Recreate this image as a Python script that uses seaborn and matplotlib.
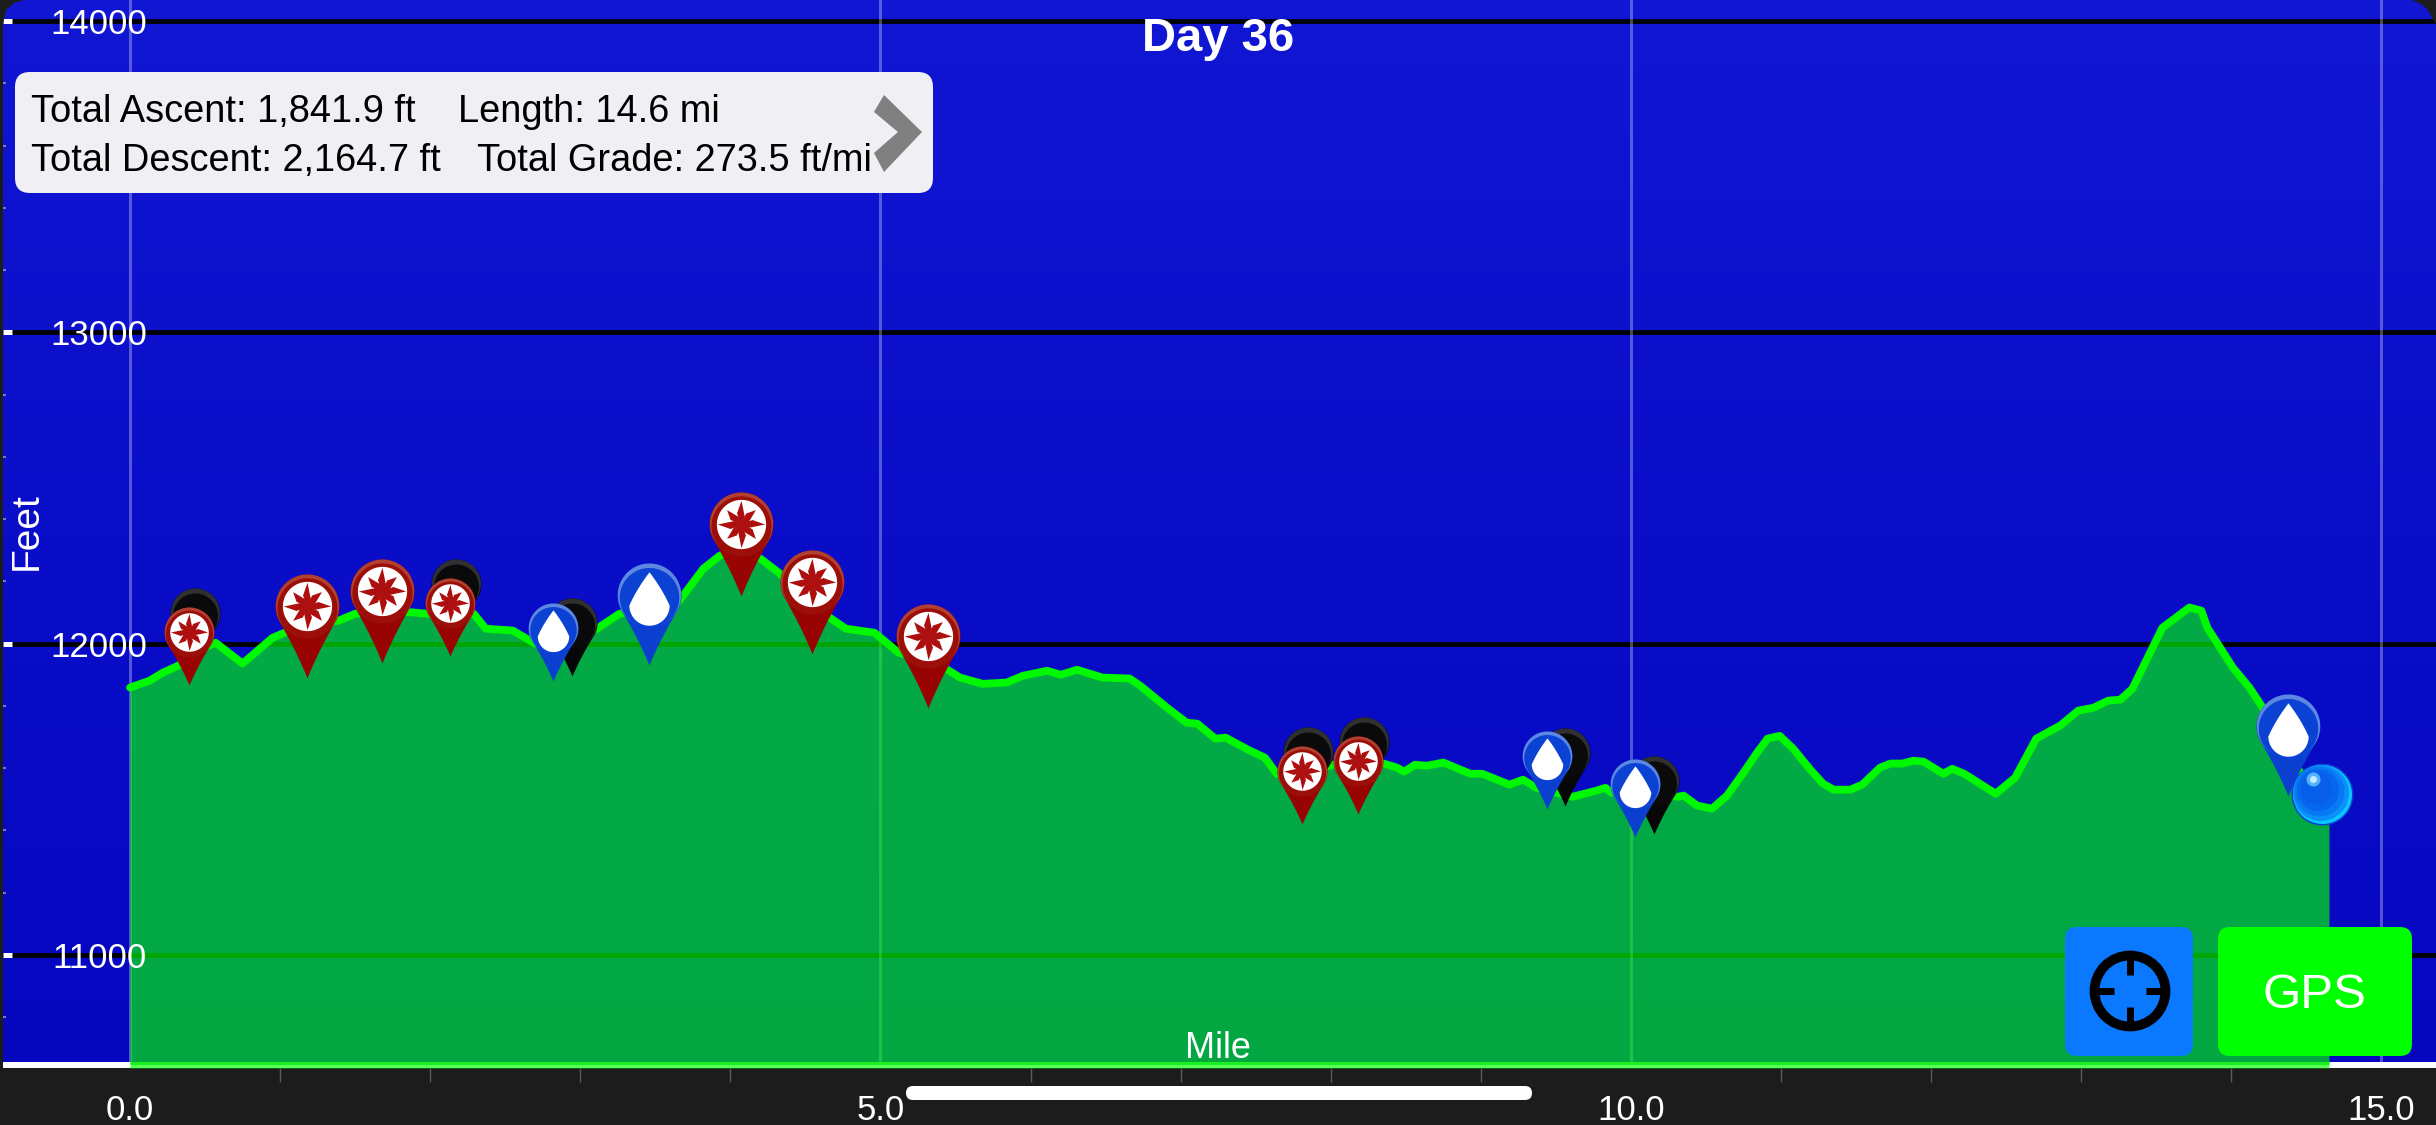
import numpy as np
import matplotlib
matplotlib.use("Agg")
import matplotlib.pyplot as plt
import seaborn as sns
from matplotlib.path import Path
from matplotlib.patches import FancyBboxPatch, Polygon, Circle
from matplotlib.markers import MarkerStyle
from matplotlib.colors import LinearSegmentedColormap
from matplotlib.ticker import FixedLocator, FixedFormatter
from matplotlib.transforms import Affine2D

TITLE = "Day 36"
X_LABEL = "Mile"
Y_LABEL = "Feet"
SUMMARY = ["Total Ascent: 1,841.9 ft", "Length: 14.6 mi", "Total Descent: 2,164.7 ft", "Total Grade: 273.5 ft/mi"]
x_major = [0, 5, 10, 15]
x_major_labels = ["0.0", "5.0", "10.0", "15.0"]
x_minor = [1, 2, 3, 4, 6, 7, 8, 9, 11, 12, 13, 14]
y_major = [11000, 12000, 13000, 14000]
y_major_labels = ["11000", "12000", "13000", "14000"]
y_minor = [10800, 11200, 11400, 11600, 11800, 12200, 12400, 12600, 12800, 13200, 13400, 13600, 13800]

miles = [0, .13, .22, .32, .48, .57, .75, .95, 1.03, 1.2, 1.39, 1.5, 1.67, 1.89, 1.98, 2.29, 2.37, 2.55, 2.7, 2.9,
         3.12, 3.26, 3.48, 3.66, 3.82, 3.93, 4.07, 4.2, 4.33, 4.5, 4.66, 4.77, 4.96, 5.12, 5.29, 5.45, 5.53, 5.68,
         5.84, 5.95, 6.11, 6.2, 6.31, 6.48, 6.66, 6.73, 6.91, 7.04, 7.11, 7.23, 7.30, 7.45, 7.56, 7.64, 7.75, 8.0,
         8.25, 8.35, 8.44, 8.49, 8.56, 8.64, 8.75, 8.93, 9.01, 9.19, 9.28, 9.37, 9.61, 9.77, 9.83, 9.87, 10.1,
         10.31, 10.35, 10.44, 10.54, 10.64, 10.75, 10.84, 10.91, 10.99, 11.08, 11.19, 11.28, 11.35, 11.46, 11.54,
         11.66, 11.73, 11.81, 11.88, 11.95, 12.08, 12.14, 12.22, 12.43, 12.56, 12.7, 12.86, 12.98, 13.08, 13.18,
         13.26, 13.34, 13.54, 13.72, 13.8, 13.84, 14.01, 14.12, 14.2, 14.45, 14.6, 14.65]
feet = [11859, 11881, 11907, 11929, 11985, 12003, 11936, 12019, 12035, 12060, 12074, 12096, 12105, 12100, 12096,
        12096, 12048, 12042, 12000, 11990, 12051, 12096, 12110, 12138, 12241, 12283, 12300, 12273, 12225, 12150,
        12084, 12048, 12035, 11971, 11950, 11915, 11891, 11871, 11875, 11897, 11913, 11900, 11916, 11891, 11888,
        11865, 11794, 11746, 11743, 11695, 11698, 11659, 11634, 11582, 11570, 11610, 11625, 11615, 11602, 11589,
        11611, 11608, 11618, 11582, 11582, 11547, 11563, 11537, 11508, 11528, 11537, 11521, 11530, 11508, 11512,
        11480, 11470, 11512, 11586, 11650, 11695, 11704, 11663, 11598, 11550, 11531, 11531, 11547, 11602, 11615,
        11615, 11624, 11621, 11582, 11598, 11582, 11518, 11570, 11695, 11737, 11785, 11794, 11817, 11820, 11855,
        12051, 12116, 12106, 12051, 11923, 11859, 11801, 11592, 11518, 11480]

red_small_x = [0.393, 2.132, 7.808, 8.181]
red_small_y = [11868, 11961, 11422, 11454]
red_large_x = [1.179, 1.679, 4.07, 4.544, 5.316]
red_large_y = [11891, 11939, 12154, 11968, 11794]
black_x = [0.433, 2.172, 2.945, 7.848, 8.221, 9.56, 10.153]
black_y = [11929, 12022, 11897, 11483, 11515, 11480, 11390]
blue_small_x = [2.818, 9.44, 10.027]
blue_small_y = [11881, 11470, 11380]
blue_large_x = [3.458, 14.377]
blue_large_y = [11933, 11512]
here_x = [14.603]
here_y = [11518]

W, H = 2436, 1125
sns.set_theme(style="white")
plt.rcParams["font.family"] = ["Liberation Sans", "DejaVu Sans"]
DARK = "#1c1c1c"
fig = plt.figure(figsize=(W / 100, H / 100), dpi=100, facecolor=DARK)
ax = fig.add_axes([3 / W, 1 - 1068 / H, (W - 3) / W, 1068 / H])
PX = 150.1
PY = 0.3113
ax.set_xlim((3 - 130) / PX, (W - 130) / PX)
ax.set_ylim(11000 - (1068 - 955) / PY, 14000 + 21 / PY)
xmin, xmax = ax.get_xlim()
ymin, ymax = ax.get_ylim()
px = Affine2D().scale(1 / W, -1 / H).translate(0, 1) + fig.transFigure

sky = LinearSegmentedColormap.from_list("sky", ["#1016d2", "#0a0ec9", "#0606bf"])
ax.imshow(np.linspace(0, 1, 64)[:, None], cmap=sky, extent=(xmin, xmax, ymin, ymax), aspect="auto", zorder=0)
ax.set_xlim(xmin, xmax)
ax.set_ylim(ymin, ymax)

for s in ax.spines.values():
    s.set_visible(False)

for v in y_major:
    ax.axhline(v, color="black", lw=3.4, zorder=1)
for v in x_major:
    ax.axvline(v, color="white", alpha=0.30, lw=2.2, zorder=1)
ax.axhspan(ymin, 11000 - (1062 - 955) / PY, color="white", lw=0, zorder=1.2)

ax.fill_between(miles, feet, ymin, color="#00ff00", alpha=0.65, lw=0, zorder=2)
sns.lineplot(x=miles, y=feet, color="#00f800", lw=5.6, ax=ax, zorder=2.2, sort=False, estimator=None)
ax.lines[-1].set_solid_joinstyle("round")
ax.plot([0, miles[-1]], [11000 - (1063.5 - 955) / PY] * 2, color="#19f01e", lw=2.2, zorder=2.2,
        solid_capstyle="butt")
ax.set_xlabel("")
ax.set_ylabel("")

ax.set_axisbelow(False)
ax.xaxis.set_major_locator(FixedLocator(x_major))
ax.xaxis.set_major_formatter(FixedFormatter(x_major_labels))
ax.xaxis.set_minor_locator(FixedLocator(x_minor))
ax.yaxis.set_major_locator(FixedLocator(y_major))
ax.yaxis.set_major_formatter(FixedFormatter(y_major_labels))
ax.yaxis.set_minor_locator(FixedLocator(y_minor))
ax.tick_params(axis="x", which="major", direction="out", length=4.5, width=3, color="white",
               labelcolor="white", labelsize=25, pad=14)
ax.tick_params(axis="x", which="minor", direction="out", length=10, width=1, color="#5a5a5a", bottom=True)
ax.tick_params(axis="y", which="major", direction="in", length=6.5, width=3.6, color="white",
               labelcolor="white", labelsize=25, pad=-103.7, left=True)
ax.tick_params(axis="y", which="minor", direction="in", length=2.5, width=1.5, color="#7a7ab8", left=True)


def stamp(xs, ys, verts, color, z, alpha=1):
    path = Path(np.asarray(verts, float))
    rescale = np.max(np.abs(path.vertices))
    ax.scatter(xs, ys, marker=MarkerStyle(path), s=(1.44 * rescale) ** 2, color=color, linewidths=0,
               zorder=z, alpha=alpha, clip_on=False)


def circle(cx, cy, r, n=60):
    t = np.linspace(0, 2 * np.pi, n)
    return np.c_[cx + r * np.cos(t), cy + r * np.sin(t)]


def body(height, width):
    r = width / 2
    cy = height - r
    a = np.radians(np.linspace(-25, 205, 50))
    arc = np.c_[r * np.cos(a), cy + r * np.sin(a)]
    start = arc[-1]
    end = arc[0]
    t = np.linspace(0, 1, 14)[:, None]
    ctrl_l = np.array([-r * 0.36, cy * 0.40])
    ctrl_r = np.array([r * 0.36, cy * 0.40])
    left = (1 - t) ** 2 * start + 2 * t * (1 - t) * ctrl_l
    right = t ** 2 * end + 2 * t * (1 - t) * ctrl_r
    return np.r_[arc, left, right]


def rose(cy, r):
    verts = []
    codes = []
    for k in range(8):
        a0 = np.pi / 2 + k * np.pi / 4
        rk = r if k % 2 == 0 else r * 0.86
        tip = np.array([np.cos(a0), np.sin(a0)]) * rk
        side = np.array([np.cos(a0 + 0.39), np.sin(a0 + 0.39)]) * r * 0.50
        side2 = np.array([np.cos(a0 - 0.39), np.sin(a0 - 0.39)]) * r * 0.36
        for j, pt in enumerate([tip, side, np.zeros(2), side2, tip]):
            verts.append(pt + [0, cy])
            codes.append(Path.MOVETO if j == 0 else Path.LINETO)
    return Path(np.array(verts), codes)


def stamp_path(xs, ys, path, color, z):
    rescale = np.max(np.abs(path.vertices))
    ax.scatter(xs, ys, marker=MarkerStyle(path), s=(1.44 * rescale) ** 2, color=color, linewidths=0, zorder=z,
               clip_on=False)


def drop(cy, r):
    t = np.linspace(0, 1, 12)[:, None]
    top = np.array([0, cy + r * 1.15])
    c0 = cy - r * 0.5
    right = (1 - t) ** 2 * np.array([r, c0]) + 2 * t * (1 - t) * np.array([r * 0.62, cy + r * 0.35]) + t ** 2 * top
    left = (1 - t) ** 2 * top + 2 * t * (1 - t) * np.array([-r * 0.62, cy + r * 0.35]) + t ** 2 * np.array([-r, c0])
    a2 = np.radians(np.linspace(180, 360, 30))
    bottom = np.c_[r * np.cos(a2), c0 + r * np.sin(a2)]
    return np.r_[right, left, bottom]


def pins(xs, ys, height, width, kind, z):
    r = width / 2
    cy = height - r
    if kind == "black":
        stamp(xs, ys, body(height, width), "#070707", z)
        stamp(xs, ys, circle(0, cy + r * 0.02, r * 0.98), "#303030", z + 0.01)
        stamp(xs, ys, circle(0, cy - r * 0.10, r * 0.90), "#0a0a0a", z + 0.02)
    elif kind == "red":
        stamp(xs, ys, body(height, width), "#980303", z)
        stamp(xs, ys, circle(0, cy + r * 0.01, r * 0.99), "#b04032", z + 0.01)
        stamp(xs, ys, circle(0, cy - r * 0.06, r * 0.94), "#9c0f08", z + 0.015)
        stamp(xs, ys, circle(0, cy, r * 0.77), "#ffffff", z + 0.02)
        stamp_path(xs, ys, rose(cy, r * 0.74), "#ad0f0f", z + 0.03)
    else:
        stamp(xs, ys, body(height, width), "#0b3fd0", z)
        stamp(xs, ys, circle(0, cy + r * 0.01, r * 0.99), "#5c88e2", z + 0.01)
        stamp(xs, ys, circle(0, cy - r * 0.07, r * 0.93), "#0c42d4", z + 0.015)
        stamp(xs, ys, drop(cy, r * 0.63), "#ffffff", z + 0.03)


pins(black_x, black_y, 78, 50, "black", 4)
pins(red_small_x, red_small_y, 78, 50, "red", 4.2)
pins(blue_small_x, blue_small_y, 78, 50, "blue", 4.2)
pins(red_large_x, red_large_y, 104, 64, "red", 4.4)
pins(blue_large_x, blue_large_y, 102, 64, "blue", 4.4)

# position sphere: concentric discs
stamp(here_x, here_y, circle(0, 0, 31), "#0c3fd2", 4.6)
stamp(here_x, here_y, circle(0, 0, 29.5), "#08c8ff", 4.61)
for rr, cc, d in zip([28, 25, 21, 16], ["#0a90fa", "#0878f4", "#0766ee", "#075ee8"], [1.5, 3, 4.5, 6]):
    stamp(here_x, here_y, circle(-d, d, rr), cc, 4.62)
stamp(here_x, here_y, circle(-9, 15, 7), "#52b4ff", 4.64)
stamp(here_x, here_y, circle(-9, 15, 3.5), "#c6ecff", 4.65)


# overlay furniture, placed in pixels
def rbox(x0, y0, x1, y1, r, color, z=6):
    p = FancyBboxPatch((x0 + r, y0 + r), x1 - x0 - 2 * r, y1 - y0 - 2 * r,
                       boxstyle=f"round,pad={r},rounding_size={r}", fc=color, ec="none", transform=px, zorder=z,
                       clip_on=False)
    fig.add_artist(p)


def label(x, y, s, size, color="white", ha="center", va="center_baseline", **kw):
    fig.text(x / W, 1 - y / H, s, fontsize=size, color=color, ha=ha, va=va, zorder=8, **kw)


rbox(15, 72, 933, 193, 15, "#efeff4")
label(31, 108, SUMMARY[0], 27.4, "black", ha="left")
label(458, 108, SUMMARY[1], 27.4, "black", ha="left")
label(31, 157, SUMMARY[2], 27.4, "black", ha="left")
label(477, 157, SUMMARY[3], 27.4, "black", ha="left")
fig.add_artist(Polygon([(874, 112), (884, 95), (922, 132), (884, 172), (874, 153), (898, 132)], closed=True,
                       fc="#808080", ec="none", transform=px, zorder=9))

rbox(2065, 927, 2193, 1056, 12, "#0a78ff")
rbox(2218, 927, 2412, 1056, 12, "#00ff00")
fig.add_artist(Circle((2130, 991), 35.5, fc="none", ec="black", lw=7, transform=px, zorder=9))
for x0, y0, x1, y1 in [(2130, 955, 2130, 975), (2130, 1007, 2130, 1027), (2094, 991, 2114, 991), (2146, 991, 2166, 991)]:
    fig.add_artist(plt.Line2D([x0, x1], [y0, y1], color="black", lw=5, transform=px, zorder=9, solid_capstyle="butt"))
label(2314, 991, "GPS", 35.5)

label(W / 2, 34, TITLE, 34, fontweight="bold")
label(1218, 1044, X_LABEL, 26)
fig.text(27 / W, 1 - 531 / H, Y_LABEL, fontsize=28, color="white", rotation=90, ha="center", va="center", zorder=8)

rbox(906, 1086, 1532, 1100, 7, "white")

# rounded screen corners
fig.add_artist(Polygon([(0, 0), (24, 0), (14, 3), (6, 10), (3, 24), (0, 24)], closed=True, fc=DARK, ec="none",
                       transform=px, zorder=9))
fig.add_artist(Polygon([(W, 0), (2412, 0), (2421, 4), (2428, 10), (2433, 20), (W, 24)], closed=True, fc=DARK,
                       ec="none", transform=px, zorder=9))
fig.savefig("out.png", dpi=100, facecolor=DARK)
